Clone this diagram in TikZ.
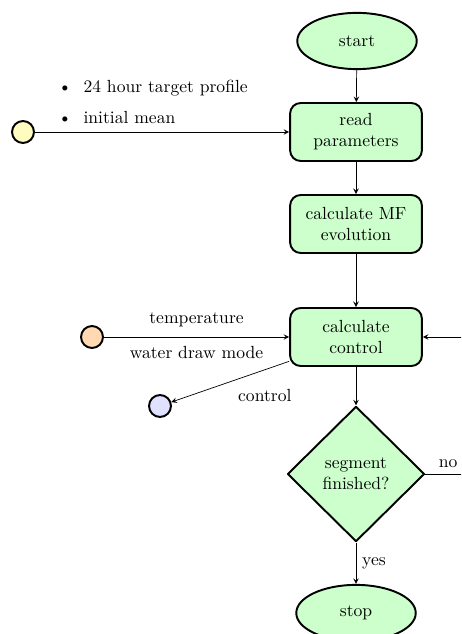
\documentclass[tikz,border=0pt]{standalone}
\usetikzlibrary{shapes.geometric,arrows}
\begin{document}
\begin{tikzpicture}[x=0.02cm, y=-0.02cm, line join=round, >=stealth,
	startstop/.style={ellipse, draw, line width=1.1pt, fill=green!20, minimum width=68pt, minimum height=32pt},
	process/.style={rectangle, rounded corners=6pt, draw, line width=1.1pt, fill=green!20, minimum width=75pt, minimum height=33pt, align=center, inner sep=2pt},
	decision/.style={diamond, draw, line width=1.1pt, fill=green!20, minimum width=78pt, minimum height=77pt, align=center, inner sep=0pt},
	port/.style={circle, draw, line width=1.1pt, minimum size=12.5pt, inner sep=0pt},
	line/.style={draw, ->, line width=0.4pt}]
	\clip (0,0) rectangle (461,634);
	\useasboundingbox (0,0) rectangle (461,634);
	% main chain
	\node[startstop] (start) at (357,41) {start};
	\node[process] (read) at (356,132) {read\\parameters};
	\node[process] (mf) at (356,224) {calculate MF\\evolution};
	\node[process] (control) at (356,337) {calculate\\control};
	\node[decision] (finished) at (356,474) {segment\\finished?};
	\node[startstop] (stop) at (356,613) {stop};
	\path[line] (start) -- (read);
	\path[line] (read) -- (mf);
	\path[line] (mf) -- (control);
	\path[line] (control) -- (finished);
	\path[line] (finished) -- node[right] {yes} (stop);
	\coordinate (loopback) at (490,474);
	\path[line] (finished.east) -- node[above,pos=0.35] {no} (loopback) |- (control.east);
	% inputs and outputs
	\node[port, fill=yellow!25] (params) at (23,132) {};
	\node[anchor=west] (profile) at (52,88) {\textbullet\ \ 24 hour target profile};
	\node[anchor=west] (mean) at (52,118) {\textbullet\ \ initial mean};
	\path[line] (params) -- (read);
	\node[port, fill=orange!30] (weather) at (92,337) {};
	\path[line] (weather) -- node[above=2pt] {temperature} node[below=2pt] {water draw mode} (control);
	\node[port, fill=blue!12] (output) at (160,406) {};
	\path[line] (control.200) -- node[below right=1pt] {control} (output);
\end{tikzpicture}
\end{document}
